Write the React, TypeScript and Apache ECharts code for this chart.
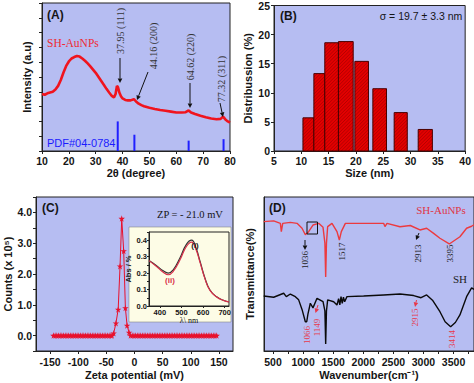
import React, { useEffect, useRef } from "react";
import * as echarts from "echarts";

// ---------- DATA ----------
// (A) XRD pattern
const xrdX = [10, 11, 12, 13, 14, 15, 16, 17, 18, 19, 20, 21, 22, 23, 24, 25, 26, 27, 28, 29, 30, 31, 32, 33, 34, 35, 36, 36.8, 37.4, 37.9, 38.3, 38.8, 39.4, 40, 41, 42, 43, 44.2, 45, 46, 47, 48, 50, 52, 54, 56, 58, 60, 62, 63.5, 64.6, 65.5, 67, 69, 71, 73, 75, 76.5, 77.4, 78.2, 79, 80];
const xrdY = [3.85, 3.8, 3.9, 3.95, 4.0, 4.15, 4.4, 4.8, 5.3, 5.75, 6.05, 6.25, 6.35, 6.42, 6.38, 6.25, 6.1, 5.92, 5.72, 5.5, 5.28, 5.02, 4.75, 4.48, 4.2, 3.95, 3.72, 3.62, 3.85, 4.4, 4.3, 3.95, 3.7, 3.55, 3.45, 3.42, 3.42, 3.5, 3.35, 3.2, 3.1, 3.02, 2.92, 2.84, 2.77, 2.72, 2.66, 2.6, 2.6, 2.62, 2.74, 2.6, 2.5, 2.38, 2.28, 2.2, 2.15, 2.17, 2.32, 2.15, 2.02, 1.92];
const pdfX = [38.2, 44.4, 64.6, 77.6];
const pdfY = [2.0, 1.1, 0.7, 0.8];

// (B) size distribution histogram
const binStart = [10.3, 12.3, 14.3, 16.8, 19.8, 23.1, 27.0, 31.4];
const binEnd = [12.3, 14.3, 16.8, 19.5, 22.3, 25.6, 29.4, 34.0];
const distPct = [5.7, 13.3, 18.6, 18.8, 15.4, 10.7, 6.6, 3.7];

// (C) zeta potential
const zetaX = [
  -144, -141, -138, -135, -132, -129, -126, -123, -120, -117,
  -114, -111, -108, -105, -102, -99, -96, -93, -90, -87,
  -84, -81, -78, -75, -72, -69, -66, -63, -60, -57,
  -54, -51, -48, -45, -42, -40,
  -37, -33, -29, -25.7, -22.7, -19.2, -16.2, -13.2, -9.6,
  -7, -4, -1, 2, 5, 8, 11, 14, 17, 20,
  23, 26, 29, 32, 35, 38, 41, 44, 47, 50,
  53, 56, 59, 62, 65, 68, 71, 74, 77, 80,
  83, 86, 89, 92, 95, 98, 101, 104, 107, 110,
  113, 116, 119, 122, 125, 128, 131, 134, 137, 140,
  143, 146,
];
const zetaY = [
  0, 0, 0, 0, 0, 0, 0, 0, 0, 0,
  0, 0, 0, 0, 0, 0, 0, 0, 0, 0,
  0, 0, 0, 0, 0, 0, 0, 0, 0, 0,
  0, 0, 0, 0, 0, 0,
  0.08, 0.4, 0.85, 2.25, 3.8, 2.75, 0.9, 0.33, 0.1,
  0, 0, 0, 0, 0, 0, 0, 0, 0, 0,
  0, 0, 0, 0, 0, 0, 0, 0, 0, 0,
  0, 0, 0, 0, 0, 0, 0, 0, 0, 0,
  0, 0, 0, 0, 0, 0, 0, 0, 0, 0,
  0, 0, 0, 0, 0, 0, 0, 0, 0, 0,
  0, 0,
];
const zetaTicks = [-150, -100, -50, 0, 50, 100, 150];
const countLabels = ["0.0", "1.0", "2.0", "3.0", "4.0"];

// (C inset) UV-vis
const uvX = [350, 385, 416, 439, 462, 493, 523, 547, 567, 586, 609, 632, 663, 694, 720];
const uvI = [0.276, 0.245, 0.214, 0.2, 0.22, 0.292, 0.375, 0.4, 0.354, 0.272, 0.169, 0.097, 0.056, 0.035, 0.025];
const uvII = [0.276, 0.24, 0.205, 0.19, 0.21, 0.28, 0.362, 0.389, 0.345, 0.265, 0.165, 0.095, 0.055, 0.034, 0.025];
const uvXTicks = [400, 500, 600, 700];
const uvYLabels = ["0.0", "0.1", "0.2", "0.3", "0.4"];

// (D) FTIR
const ftRedX = [345, 511, 622, 638, 661, 788, 899, 982, 1037, 1092, 1164, 1259, 1331, 1362, 1375, 1388, 1408, 1480, 1563, 1602, 1635, 1702, 2117, 2338, 2360, 2394, 2610, 2781, 2942, 3053, 3169, 3274, 3429, 3606, 3717, 3800, 3840];
const ftRedY = [84, 84.5, 82.9, 77.5, 82.9, 83.5, 82.9, 79.7, 75.5, 77.5, 81.8, 82.9, 80.3, 70, 48, 70, 80.8, 82.9, 77.5, 72.1, 77.5, 82.9, 82.9, 82.9, 80.8, 82.9, 80.7, 81.5, 78.6, 79.7, 76.4, 73.2, 69.5, 74.2, 79.7, 81, 82];
const ftBlkX = [345, 511, 677, 721, 788, 871, 926, 982, 1037, 1060, 1080, 1120, 1164, 1231, 1331, 1362, 1375, 1388, 1408, 1508, 1563, 1590, 1610, 1630, 1650, 1670, 1690, 1729, 2006, 2338, 2610, 2837, 2960, 3053, 3150, 3274, 3360, 3452, 3530, 3606, 3717, 3800, 3840];
const ftBlkY = [35.7, 34.9, 37.5, 35.3, 37, 35.3, 33.2, 27, 19, 19, 24, 31, 28, 34.2, 32, 26, 4.5, 26, 33.2, 32, 29.9, 34, 30, 35.3, 31, 35, 32, 35.3, 35.7, 36.4, 37, 36, 34.6, 36.4, 33, 25.5, 19, 15.8, 18.5, 23.4, 35.3, 41, 40];
const waveLabels = [500, 1000, 1500, 2000, 2500, 3000, 3500];
const waveTicks = [500, 750, 1000, 1250, 1500, 1750, 2000, 2250, 2500, 2750, 3000, 3250, 3500, 3750];

// ---------- STYLE ----------
const SANS = '"Liberation Sans", Arial, sans-serif';
const SERIF = '"Liberation Serif", "Times New Roman", serif';
const BG = "#b6bdf2";
const INK = "#151515";

const zip = (a: number[], b: number[]) => a.map((v, i) => [v, b[i]]);

const tickLbl = (extra: any = {}) => ({
  color: INK,
  fontFamily: SANS,
  fontWeight: "bold",
  fontSize: 10.5,
  ...extra,
});
const nameStyle = { color: INK, fontFamily: SANS, fontWeight: "bold", fontSize: 11 };
const line = { show: true, onZero: false, lineStyle: { color: "#222", width: 1 } };
const tick = (extra: any = {}) => ({ show: true, length: 3, lineStyle: { color: "#222" }, ...extra });

function arrow(x1: number, y1: number, x2: number, y2: number, color: string) {
  const ang = Math.atan2(y2 - y1, x2 - x1);
  const L = 4.5, W = 2.3;
  const bx = x2 - L * Math.cos(ang), by = y2 - L * Math.sin(ang);
  const px = -Math.sin(ang) * W, py = Math.cos(ang) * W;
  return [
    { type: "line", z: 30, shape: { x1, y1, x2: bx, y2: by }, style: { stroke: color, lineWidth: 1 } },
    { type: "polygon", z: 30, shape: { points: [[x2, y2], [bx + px, by + py], [bx - px, by - py]] }, style: { fill: color } },
  ];
}

function txt(text: string, x: number, y: number, o: any = {}) {
  return {
    type: "text",
    z: 30,
    x,
    y,
    rotation: o.rot || 0,
    style: {
      text,
      fill: o.color || INK,
      fontFamily: o.family || SANS,
      fontSize: o.size || 11,
      fontWeight: o.weight || "normal",
      textAlign: o.align || "center",
      textVerticalAlign: "middle",
      align: o.align || "center",
      verticalAlign: "middle",
    },
  };
}

const R90 = Math.PI / 2;

const starPath = "path://M50,0 L61,35 L98,35 L68,57 L79,91 L50,70 L21,91 L32,57 L2,35 L39,35 Z";

export default function App() {
  const ref = useRef<HTMLDivElement>(null);
  useEffect(() => {
    document.body.style.margin = "0";
    if (!ref.current) return;
    const chart = echarts.init(ref.current, null, { renderer: "svg" });

    const gridBase = { show: true, backgroundColor: BG, borderColor: "#222", borderWidth: 1 };

    const option: any = {
      animation: false,
      grid: [
        { ...gridBase, left: 42, top: 3, width: 188, height: 148 },
        { ...gridBase, left: 274, top: 3, width: 193, height: 148 },
        { ...gridBase, left: 36, top: 197, width: 197, height: 154 },
        { ...gridBase, left: 264, top: 197, width: 210, height: 154 },
        { show: true, backgroundColor: "#fdfce6", borderColor: "#222", borderWidth: 1, left: 149, top: 232, width: 80, height: 74, z: 11 },
      ],
      xAxis: [
        {
          gridIndex: 0, type: "value", min: 10, max: 80, interval: 10,
          axisLine: line, axisTick: tick(), splitLine: { show: false },
          axisLabel: tickLbl({ margin: 4 }),
          name: "2θ (degree)", nameLocation: "middle", nameGap: 16, nameTextStyle: nameStyle,
        },
        {
          gridIndex: 1, type: "value", min: 5, max: 40, interval: 5,
          axisLine: line, axisTick: tick(), splitLine: { show: false },
          axisLabel: tickLbl({ margin: 4 }),
          name: "Size (nm)", nameLocation: "middle", nameGap: 16, nameTextStyle: nameStyle,
        },
        {
          gridIndex: 2, type: "value", min: -175, max: 175,
          axisLine: line, axisTick: tick({ customValues: zetaTicks }), splitLine: { show: false },
          axisLabel: tickLbl({ margin: 5, customValues: zetaTicks, formatter: (v: any) => String(v) }),
          name: "Zeta potential (mV)", nameLocation: "middle", nameGap: 18, nameTextStyle: nameStyle,
        },
        {
          gridIndex: 3, type: "value", min: 350, max: 3840,
          axisLine: line, axisTick: tick({ customValues: waveTicks }), splitLine: { show: false },
          axisLabel: tickLbl({ margin: 5, customValues: waveLabels, formatter: (v: any) => String(v) }),
          name: "Wavenumber(cm⁻¹)", nameLocation: "middle", nameGap: 18, nameTextStyle: nameStyle,
        },
        {
          gridIndex: 4, type: "value", min: 350, max: 720, z: 12,
          axisLine: line, axisTick: tick({ length: 2, customValues: uvXTicks }), splitLine: { show: false },
          axisLabel: tickLbl({ fontSize: 7.5, margin: 2, customValues: uvXTicks, formatter: (v: any) => String(v) }),
          name: "λ\\ nm", nameLocation: "middle", nameGap: 10,
          nameTextStyle: { color: INK, fontFamily: SERIF, fontSize: 8 },
        },
      ],
      yAxis: [
        {
          gridIndex: 0, type: "value", min: 0, max: 10, interval: 1,
          axisLine: line, axisTick: tick(), splitLine: { show: false },
          axisLabel: { show: false },
          name: "Intensity (a.u)", nameLocation: "middle", nameGap: 10, nameTextStyle: nameStyle,
        },
        {
          gridIndex: 1, type: "value", min: 0, max: 25, interval: 5,
          axisLine: line, axisTick: tick(), splitLine: { show: false },
          axisLabel: tickLbl({ margin: 4 }),
          name: "Distribussion (%)", nameLocation: "middle", nameGap: 21, nameTextStyle: nameStyle,
        },
        {
          gridIndex: 2, type: "value", min: -0.5, max: 4.5, interval: 0.5,
          axisLine: line, axisTick: tick(), splitLine: { show: false },
          axisLabel: tickLbl({
            margin: 4,
            formatter: (v: any) => {
              const n = Number(v);
              const i = Math.round(n);
              return Math.abs(n - i) < 1e-6 && i >= 0 ? countLabels[i] : "";
            },
          }),
          name: "Counts (x 10⁵)", nameLocation: "middle", nameGap: 21, nameTextStyle: nameStyle,
        },
        {
          gridIndex: 3, type: "value", min: 0, max: 100,
          axisLine: line, axisTick: { show: false }, splitLine: { show: false },
          axisLabel: { show: false },
          name: "Transmittance(%)", nameLocation: "middle", nameGap: 9, nameTextStyle: nameStyle,
        },
        {
          gridIndex: 4, type: "value", min: 0, max: 0.45, interval: 0.05, z: 12,
          axisLine: line, axisTick: tick({ length: 2 }), splitLine: { show: false },
          axisLabel: tickLbl({
            fontSize: 7.5, margin: 2,
            formatter: (v: any) => {
              const n = Number(v) * 10;
              const i = Math.round(n);
              return Math.abs(n - i) < 1e-6 ? uvYLabels[i] || "" : "";
            },
          }),
          name: "Abs / %", nameLocation: "middle", nameGap: 13,
          nameTextStyle: { color: INK, fontFamily: SANS, fontWeight: "bold", fontSize: 7.5 },
        },
      ],
      series: [
        {
          type: "line", xAxisIndex: 0, yAxisIndex: 0, data: zip(xrdX, xrdY),
          showSymbol: false, lineStyle: { color: "#f0141e", width: 2.6 }, z: 3,
        },
        {
          type: "bar", xAxisIndex: 0, yAxisIndex: 0, data: zip(pdfX, pdfY),
          barWidth: 2, itemStyle: { color: "#2020ff" }, z: 3,
        },
        {
          type: "custom", xAxisIndex: 1, yAxisIndex: 1,
          data: binStart.map((s, i) => [s, binEnd[i], distPct[i]]),
          encode: { x: [0, 1], y: 2 },
          renderItem: (params: any, api: any) => {
            const p0 = api.coord([api.value(0), 0]);
            const p1 = api.coord([api.value(1), api.value(2)]);
            const x0 = p0[0], x1 = p1[0], y0 = p1[1], y1 = p0[1];
            const children: any[] = [
              { type: "rect", shape: { x: x0, y: y0, width: x1 - x0, height: y1 - y0 }, style: { fill: "#e30000" } },
            ];
            for (let c = x0 + y0; c <= x1 + y1; c += 3.4) {
              const xa = Math.max(x0, c - y1);
              const xb = Math.min(x1, c - y0);
              if (xb > xa) {
                children.push({ type: "line", shape: { x1: xa, y1: c - xa, x2: xb, y2: c - xb }, style: { stroke: "rgba(120,0,0,0.55)", lineWidth: 0.8 } });
              }
            }
            children.push({ type: "rect", shape: { x: x0, y: y0, width: x1 - x0, height: y1 - y0 }, style: { fill: "none", stroke: "#4a0000", lineWidth: 1 } });
            return { type: "group", children };
          },
          z: 3,
        },
        {
          type: "line", xAxisIndex: 2, yAxisIndex: 2, data: zip(zetaX, zetaY),
          symbol: starPath, symbolSize: 6.5, showSymbol: true, showAllSymbol: true,
          lineStyle: { color: "#e8112d", width: 1 }, itemStyle: { color: "#e8112d" }, z: 3,
        },
        {
          type: "line", xAxisIndex: 3, yAxisIndex: 3, data: zip(ftRedX, ftRedY),
          showSymbol: false, lineStyle: { color: "#ec3a3f", width: 1.4 }, z: 3,
        },
        {
          type: "line", xAxisIndex: 3, yAxisIndex: 3, data: zip(ftBlkX, ftBlkY),
          showSymbol: false, lineStyle: { color: "#0a0a0a", width: 1.4 }, z: 3,
        },
        {
          type: "line", xAxisIndex: 4, yAxisIndex: 4, data: zip(uvX, uvI), smooth: true,
          showSymbol: false, lineStyle: { color: "#333333", width: 1.2 }, z: 13,
        },
        {
          type: "line", xAxisIndex: 4, yAxisIndex: 4, data: zip(uvX, uvII), smooth: true,
          showSymbol: false, lineStyle: { color: "#d9304a", width: 1.2 }, z: 13,
        },
      ],
      graphic: [
        // inset background box
        { type: "rect", z: 10, shape: { x: 129, y: 227, width: 102, height: 95 }, style: { fill: "#fdfce6", stroke: "#888", lineWidth: 0.6 } },
        // Panel A
        txt("(A)", 47, 15, { weight: "bold", size: 12, align: "left" }),
        txt("SH-AuNPs", 47, 43, { family: SERIF, size: 11.5, color: "#ee2a33", align: "left" }),
        txt("PDF#04-0784", 47, 143, { size: 11, color: "#1a1aff", align: "left" }),
        txt("37.95 (111)", 120, 31, { family: SERIF, size: 10, rot: R90, color: "#333" }),
        txt("44.16 (200)", 153, 46, { family: SERIF, size: 10, rot: R90, color: "#333" }),
        txt("64.62 (220)", 190, 57, { family: SERIF, size: 10, rot: R90, color: "#333" }),
        txt("77.32 (311)", 221, 79, { family: SERIF, size: 10, rot: R90, color: "#333" }),
        ...arrow(120, 58, 120, 83, "#111"),
        ...arrow(148, 72, 137, 100, "#111"),
        ...arrow(190, 83, 190, 108, "#111"),
        ...arrow(220, 103, 223, 117, "#111"),
        // Panel B
        txt("(B)", 280, 16, { weight: "bold", size: 12, align: "left" }),
        txt("σ = 19.7 ± 3.3 nm", 421, 16, { size: 10.5 }),
        // Panel C
        txt("(C)", 42, 208, { weight: "bold", size: 12, align: "left" }),
        txt("ZP = - 21.0 mV", 190, 214, { family: SERIF, size: 10.5 }),
        txt("(i)", 195, 245, { weight: "bold", size: 8 }),
        txt("(ii)", 170, 280, { weight: "bold", size: 8, color: "#d9304a" }),
        // Panel D
        txt("(D)", 269, 208, { weight: "bold", size: 12, align: "left" }),
        txt("SH-AuNPs", 441, 210, { family: SERIF, size: 11, color: "#e03545" }),
        txt("SH", 460, 279, { family: SERIF, size: 11, color: "#222" }),
        { type: "rect", z: 30, shape: { x: 307, y: 222, width: 10.5, height: 12 }, style: { fill: "none", stroke: "#111", lineWidth: 1 } },
        ...arrow(305, 240, 305, 250, "#111"),
        txt("1036", 305, 260, { family: SERIF, size: 9, rot: R90, color: "#222" }),
        txt("1517", 341.5, 251.5, { family: SERIF, size: 9, rot: R90, color: "#222" }),
        ...arrow(419, 233, 416, 240, "#111"),
        txt("2913", 418, 253.5, { family: SERIF, size: 9, rot: R90, color: "#222" }),
        txt("3395", 450, 253.5, { family: SERIF, size: 9, rot: R90, color: "#222" }),
        txt("1066", 306.5, 335, { family: SERIF, size: 9, rot: R90, color: "#e8384a" }),
        ...arrow(318, 305, 315.5, 313, "#e8384a"),
        txt("1149", 316.5, 327.5, { family: SERIF, size: 9, rot: R90, color: "#e8384a" }),
        ...arrow(416.5, 300, 415, 307, "#e8384a"),
        txt("2915", 415, 317.5, { family: SERIF, size: 9, rot: R90, color: "#e8384a" }),
        txt("3414", 451.5, 339, { family: SERIF, size: 9, rot: R90, color: "#e8384a" }),
      ],
    };
    chart.setOption(option);
    return () => chart.dispose();
  }, []);
  return <div ref={ref} style={{ width: 474, height: 383 }} />;
}
